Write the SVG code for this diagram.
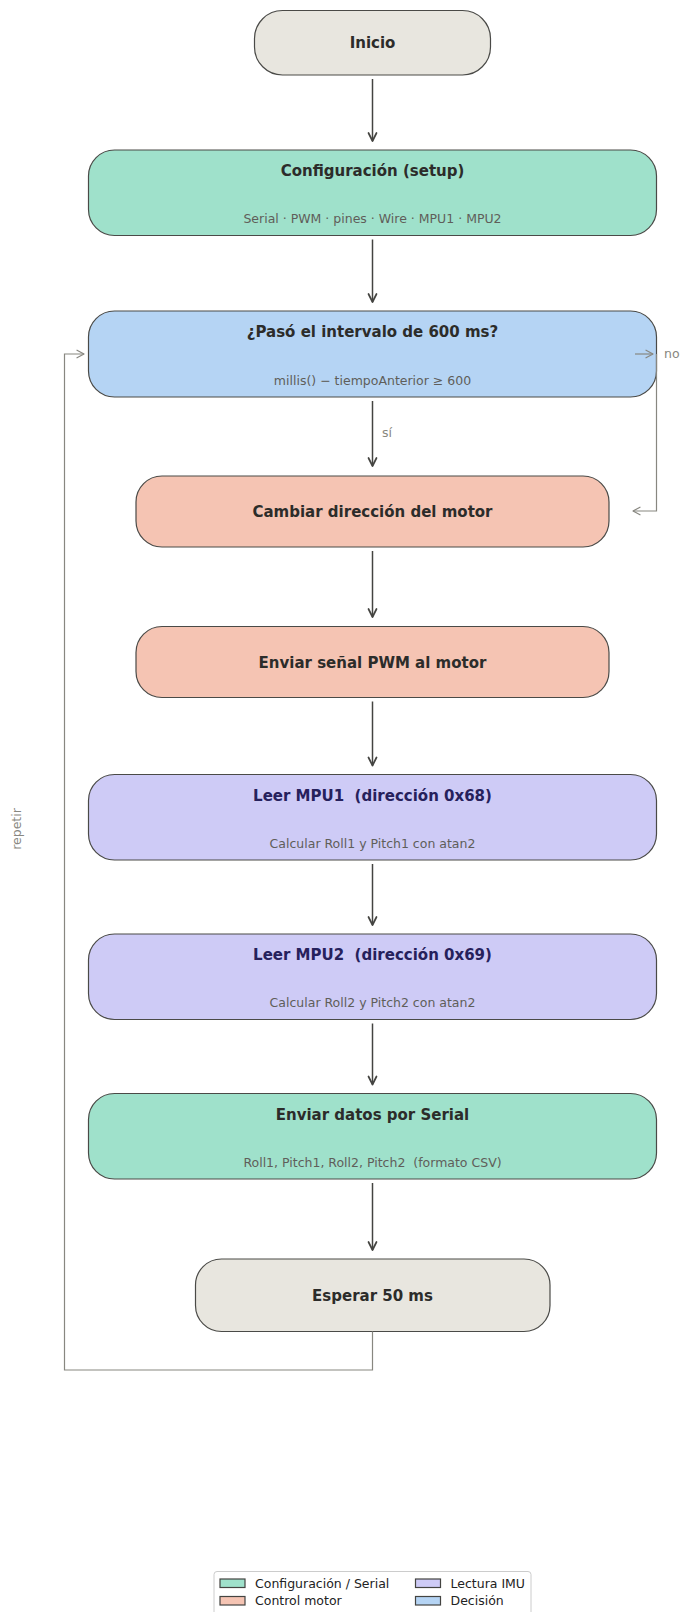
<svg xmlns="http://www.w3.org/2000/svg" width="680" height="1612" viewBox="0 0 680 1612">
<style>
.box{stroke:#4a4a47;stroke-width:1.2}
.t{font-family:"DejaVu Sans",sans-serif;font-weight:bold;font-size:15px;fill:#2c2c2a;text-anchor:middle}
.tp{fill:#26215c}
.s{font-family:"DejaVu Sans",sans-serif;font-size:12.5px;fill:#5f5e5a;text-anchor:middle}
.lab{font-family:"DejaVu Sans",sans-serif;font-size:12.5px;fill:#888780}
.main{stroke:#444441;stroke-width:1.5;fill:none}
.grey{stroke:#888780;stroke-width:1.2;fill:none}
.lt{font-family:"DejaVu Sans",sans-serif;font-size:12.5px;fill:#222}
.lp{stroke:#444441;stroke-width:1.2}
</style>
<defs>
<marker id="ah" markerUnits="userSpaceOnUse" markerWidth="12" markerHeight="12" viewBox="-10 -6 12 12" refX="0" refY="0" orient="auto">
<path d="M-8,-4 L0,0 L-8,4" fill="none" stroke="#444441" stroke-width="1.7" stroke-linejoin="round" stroke-linecap="round"/>
</marker>
<marker id="ag" markerUnits="userSpaceOnUse" markerWidth="12" markerHeight="12" viewBox="-10 -6 12 12" refX="0" refY="0" orient="auto">
<path d="M-7,-3.8 L0,0 L-7,3.8" fill="none" stroke="#888780" stroke-width="1.2" stroke-linejoin="round" stroke-linecap="round"/>
</marker>
</defs>
<rect width="680" height="1612" fill="#ffffff"/>

<g id="inicio">
<rect class="box" x="254.5" y="10.5" width="236" height="64.5" rx="28" fill="#e8e6df"/>
<text class="t" x="372.5" y="48">Inicio</text>
</g>
<g id="setup">
<rect class="box" x="88.5" y="150" width="568" height="85.5" rx="26" fill="#9fe1cb"/>
<text class="t" x="372.5" y="176">Configuración (setup)</text>
<text class="s" x="372.5" y="223">Serial · PWM · pines · Wire · MPU1 · MPU2</text>
</g>
<g id="decision">
<rect class="box" x="88.5" y="311" width="568" height="86" rx="26" fill="#b5d4f4"/>
<text class="t" x="372.5" y="337">¿Pasó el intervalo de 600 ms?</text>
<text class="s" x="372.5" y="384.5">millis() − tiempoAnterior ≥ 600</text>
</g>
<g id="cambiar">
<rect class="box" x="136" y="476" width="473" height="71" rx="26" fill="#f5c4b3"/>
<text class="t" x="372.5" y="517">Cambiar dirección del motor</text>
</g>
<g id="pwm">
<rect class="box" x="136" y="626.5" width="473" height="71" rx="26" fill="#f5c4b3"/>
<text class="t" x="372.5" y="667.5">Enviar señal PWM al motor</text>
</g>
<g id="mpu1">
<rect class="box" x="88.5" y="774.5" width="568" height="85.5" rx="26" fill="#cecbf6"/>
<text class="t tp" x="372.5" y="800.5" xml:space="preserve">Leer MPU1  (dirección 0x68)</text>
<text class="s" x="372.5" y="847.5">Calcular Roll1 y Pitch1 con atan2</text>
</g>
<g id="mpu2">
<rect class="box" x="88.5" y="934" width="568" height="85.5" rx="26" fill="#cecbf6"/>
<text class="t tp" x="372.5" y="960" xml:space="preserve">Leer MPU2  (dirección 0x69)</text>
<text class="s" x="372.5" y="1007">Calcular Roll2 y Pitch2 con atan2</text>
</g>
<g id="serial">
<rect class="box" x="88.5" y="1093.5" width="568" height="85.5" rx="26" fill="#9fe1cb"/>
<text class="t" x="372.5" y="1119.5">Enviar datos por Serial</text>
<text class="s" x="372.5" y="1166.5" xml:space="preserve">Roll1, Pitch1, Roll2, Pitch2  (formato CSV)</text>
</g>
<g id="esperar">
<rect class="box" x="195.5" y="1259" width="354.5" height="72.5" rx="26" fill="#e8e6df"/>
<text class="t" x="372.5" y="1301">Esperar 50 ms</text>
</g>

<g id="connectors">
<line class="main" x1="372.5" y1="79" x2="372.5" y2="141" marker-end="url(#ah)"/>
<line class="main" x1="372.5" y1="239.5" x2="372.5" y2="302" marker-end="url(#ah)"/>
<line class="main" x1="372.5" y1="401" x2="372.5" y2="466" marker-end="url(#ah)"/>
<line class="main" x1="372.5" y1="551" x2="372.5" y2="617" marker-end="url(#ah)"/>
<line class="main" x1="372.5" y1="701.5" x2="372.5" y2="765.5" marker-end="url(#ah)"/>
<line class="main" x1="372.5" y1="864" x2="372.5" y2="925" marker-end="url(#ah)"/>
<line class="main" x1="372.5" y1="1023.5" x2="372.5" y2="1084.5" marker-end="url(#ah)"/>
<line class="main" x1="372.5" y1="1183" x2="372.5" y2="1250" marker-end="url(#ah)"/>
<text class="lab" x="382" y="436.5">sí</text>
<line class="grey" x1="635" y1="354" x2="653" y2="354" marker-end="url(#ag)"/>
<path class="grey" d="M656.5,354 V511 H633" marker-end="url(#ag)"/>
<text class="lab" x="664" y="358">no</text>
<path class="grey" d="M372.5,1331.5 V1370 H64.5 V354 H84" marker-end="url(#ag)"/>
<text class="lab" transform="translate(21,829) rotate(-90)" text-anchor="middle">repetir</text>
</g>

<g id="legend">
<rect x="214" y="1571.5" width="317" height="50" rx="3" fill="#ffffff" fill-opacity="0.8" stroke="#cccccc" stroke-width="1"/>
<rect class="lp" x="220" y="1579" width="25" height="8.5" fill="#9fe1cb"/>
<text class="lt" x="255" y="1587.5">Configuración / Serial</text>
<rect class="lp" x="220" y="1596.5" width="25" height="8.5" fill="#f5c4b3"/>
<text class="lt" x="255" y="1605">Control motor</text>
<rect class="lp" x="415.5" y="1579" width="25" height="8.5" fill="#cecbf6"/>
<text class="lt" x="450.5" y="1587.5">Lectura IMU</text>
<rect class="lp" x="415.5" y="1596.5" width="25" height="8.5" fill="#b5d4f4"/>
<text class="lt" x="450.5" y="1605">Decisión</text>
</g>
</svg>
